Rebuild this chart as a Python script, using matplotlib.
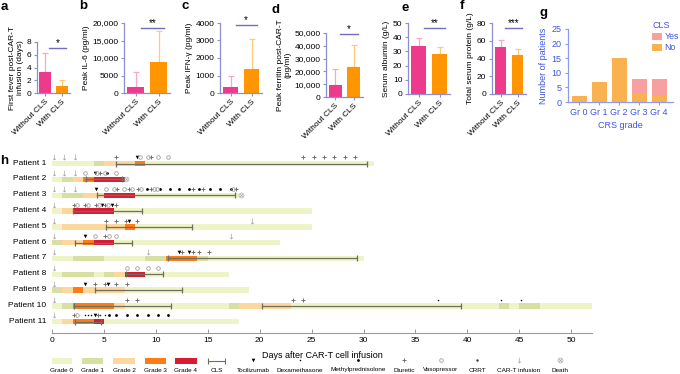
import matplotlib

matplotlib.use("Agg")

import matplotlib.pyplot as plt  # noqa: E402
import numpy as np  # noqa: E402
from matplotlib.patches import Rectangle  # noqa: E402
from matplotlib.ticker import FuncFormatter  # noqa: E402

plt.rcParams["font.family"] = ["Liberation Sans", "DejaVu Sans"]
plt.rcParams["font.size"] = 6

# ---- data: panels a-f (mean, upper error) ----
groups = ["Without CLS", "With CLS"]
fever_mean = [3.3, 1.1]
fever_err = [3.0, 0.9]
il6_mean = [1800, 9000]
il6_err = [4100, 8600]
ifn_mean = [330, 1380]
ifn_err = [640, 1700]
ferritin_mean = [9000, 23500]
ferritin_err = [12900, 17100]
albumin_mean = [34.0, 28.2]
albumin_err = [5.2, 4.7]
protein_mean = [53.0, 44.0]
protein_err = [8.0, 7.0]

# ---- data: panel g ----
crs_grades = ["Gr 0", "Gr 1", "Gr 2", "Gr 3", "Gr 4"]
cls_no = [2, 7, 15, 3, 2]
cls_yes = [0, 0, 0, 5, 6]

# ---- data: panel h (start day, end day, CRS grade) ----
patients = [f"Patient {i}" for i in range(1, 12)]
grade_segments = [
    [(0, 4, 0), (4, 5, 1), (5, 8, 2), (8, 9, 3), (9, 31, 0)],
    [(0, 1, 0), (1, 2, 1), (2, 3, 2), (3, 4, 3), (4, 7, 4)],
    [(0, 1, 0), (1, 3, 1), (3, 5, 2), (5, 8, 4), (8, 18, 0)],
    [(0, 1, 0), (1, 2, 2), (2, 6, 4), (6, 25, 0)],
    [(0, 1, 0), (1, 7, 2), (7, 8, 3), (8, 25, 0)],
    [(0, 1, 1), (1, 3, 2), (3, 4, 3), (4, 6, 4), (6, 22, 0)],
    [(0, 2, 0), (2, 5, 1), (5, 9, 0), (9, 11, 1), (11, 14, 3), (14, 15, 1), (15, 30, 0)],
    [(0, 1, 0), (1, 4, 1), (4, 5, 0), (5, 6, 1), (6, 7, 2), (7, 9, 4), (9, 17, 0)],
    [(0, 1, 1), (1, 2, 2), (2, 3, 3), (3, 7, 2), (7, 19, 0)],
    [(0, 1, 0), (1, 2, 1), (2, 6, 3), (6, 7, 2), (7, 17, 0), (17, 18, 1), (18, 23, 2),
     (23, 43, 0), (43, 44, 1), (44, 45, 0), (45, 47, 1), (47, 52, 0)],
    [(0, 1, 0), (1, 2, 2), (2, 4, 3), (4, 5, 4), (5, 18, 0)],
]
cls_periods = {
    1: [(6.2, 30.3)], 2: [(3.3, 6.7)], 3: [(4.3, 17.6)], 4: [(2.05, 8.7)],
    5: [(5.2, 13.5)], 6: [(2.2, 7.7)], 7: [(11.2, 29.4)], 8: [(7.1, 10.7)],
    9: [(4.15, 12.5)], 10: [(2.1, 11.5), (20.2, 39.4)], 11: [(2.2, 4.7)],
}
tocilizumab = {1: [8.2], 2: [4.1], 3: [4.2], 4: [4.8, 5.8], 5: [7.4], 6: [3.2],
               7: [12.2, 13.2], 9: [3.2, 5.4], 11: [4.1]}
dexamethasone = {10: [37.2, 43.2, 45.2], 11: [3.2, 3.5, 3.8, 4.6, 5.1]}
methylpred = {2: [5.3], 3: [9.1, 10.4, 11.4, 12.2, 13.2, 14.2, 15.2, 16.2, 17.2],
              11: [5.5, 6.2, 7.2, 8.2, 9.2, 10.2, 11.2]}
diuretic = {1: [6.2, 9.5, 24.2, 25.2, 26.2, 27.2, 28.2, 29.2], 2: [4.6],
            3: [6.3, 7.4, 8.3, 9.5, 13.6, 14.5, 17.7], 4: [2.1, 3.2, 4.2, 5.1, 6.2],
            5: [5.2, 6.2, 7.1, 8.2], 6: [5.1], 7: [12.5, 13.6, 14.2, 15.1],
            9: [4.15, 5.1, 6.2, 7.2], 10: [7.2, 8.2, 23.2, 24.2], 11: [2.1, 4.4]}
vasopressor = {1: [8.5, 9.2, 10.2, 11.2], 2: [3.2, 4.3, 5.1, 6.2],
               3: [5.2, 6.0, 6.9, 7.7, 8.6, 9.8, 10.1, 17.4], 4: [2.4, 3.5, 4.5, 5.4],
               6: [4.1, 5.5, 6.2], 8: [7.2, 8.2, 9.2, 10.2], 11: [2.4]}
crrt = {}
infusion = {1: [0.2, 1.2, 2.2], 2: [0.2, 1.2, 2.2], 3: [0.2, 1.2, 2.2], 4: [0.2],
            5: [0.2, 19.3], 6: [0.2, 17.2], 7: [0.2, 9.2], 8: [0.2], 9: [0.2],
            10: [0.2], 11: [0.2]}
death = {2: [7.1], 3: [18.2]}

# ---- styles ----
W, H = 680, 374
PINK, ORANGE = "#EE3A8C", "#FF9500"
PINK_L, ORANGE_L = "#F8A9CB", "#FFC978"
SPINE = "#8E8ECF"
BLUE, BLUE_L = "#3F55DA", "#8C9BEF"
GRADE_COLORS = ["#EEF4C8", "#D7E0A2", "#FDD79C", "#FF7B14", "#D91C34"]
CLS_COLOR = "#6F6F5E"
MARKERS = {
    "Tocilizumab": (tocilizumab, dict(marker="v", color="black", ms=2.6, mew=0)),
    "Dexamethasone": (dexamethasone, dict(marker="o", color="black", ms=1.1, mew=0)),
    "Methylprednisolone": (methylpred, dict(marker="o", color="black", ms=2.0, mew=0)),
    "Diuretic": (diuretic, dict(marker="+", color="#707070", ms=3, mew=0.7)),
    "Vasopressor": (vasopressor, dict(marker="o", mfc="none", mec="#A0A0A0", ms=2.6, mew=0.6)),
    "CRRT": (crrt, dict(marker="o", color="#404040", ms=1.8, mew=0)),
    "CAR-T infusion": (infusion, dict(marker=r"$\downarrow$", color="#A0A0A0", ms=4, mew=0)),
    "Death": (death, dict(marker=r"$\otimes$", color="#A0A0A0", ms=4, mew=0)),
}

fig = plt.figure(figsize=(W / 100, H / 100), dpi=100)


def px_rect(x0, x1, y_top, y_bot):
    return [x0 / W, 1 - y_bot / H, (x1 - x0) / W, (y_bot - y_top) / H]


def comma_fmt(v, _):
    v = int(round(v))
    return f"{v:,}" if v >= 10000 else f"{v}"


def bar_panel(rect, means, errs, ymax, step, ylabel, stars, sig_y, fmt=None):
    ax = fig.add_axes(rect)
    x = np.arange(len(groups))
    ax.bar(x, means, width=0.7, color=[PINK, ORANGE], zorder=2)
    for xi, m, e, c in zip(x, means, errs, [PINK_L, ORANGE_L]):
        ax.errorbar(xi, m, yerr=[[0], [e]], color=c, capsize=2.2, elinewidth=0.9,
                    capthick=0.9, zorder=1)
    ax.plot([0.25, 1.25], [sig_y, sig_y], color="#6F6FC0", lw=1)
    ax.text(0.75, sig_y, stars, ha="center", va="bottom", fontsize=7)
    ax.set_xlim(-0.5, 1.5)
    ax.set_ylim(0, ymax)
    ax.set_yticks(np.arange(0, ymax + step / 2, step))
    if fmt is not None:
        ax.yaxis.set_major_formatter(FuncFormatter(fmt))
    ax.set_xticks(x)
    ax.set_xticklabels(groups, rotation=45, ha="right", rotation_mode="anchor")
    ax.set_ylabel(ylabel, fontsize=6, labelpad=2)
    for s in ("top", "right"):
        ax.spines[s].set_visible(False)
    for s in ("left", "bottom"):
        ax.spines[s].set_color(SPINE)
        ax.spines[s].set_linewidth(0.9)
    ax.tick_params(colors=SPINE, labelcolor="black", labelsize=6, length=2.5, width=0.8, pad=1.5)
    ax.spines["left"].set_bounds(0, ymax)
    return ax


bar_panel(px_rect(37, 70, 42, 93), fever_mean, fever_err, 8, 2,
          "First fever post-CAR-T\ninfusion (days)", "*", 7.1)
bar_panel(px_rect(124, 170, 23, 93), il6_mean, il6_err, 20000, 5000,
          "Peak IL-6 (pg/ml)", "**", 18500, comma_fmt)
bar_panel(px_rect(220, 262, 23, 93), ifn_mean, ifn_err, 4000, 1000,
          "Peak IFN-γ (pg/ml)", "*", 3900)
bar_panel(px_rect(326, 363, 33, 97), ferritin_mean, ferritin_err, 50000, 10000,
          "Peak ferritin post-CAR-T\n(pg/ml)", "*", 49500, comma_fmt)
bar_panel(px_rect(408, 450, 23, 94), albumin_mean, albumin_err, 50, 10,
          "Serum albumin (g/L)", "**", 46.5)
bar_panel(px_rect(492, 526, 23, 94), protein_mean, protein_err, 80, 20,
          "Total serum protein (g/L)", "***", 74.5)

# ---- panel g ----
axg = fig.add_axes(px_rect(568, 673, 29, 102))
xg = np.arange(len(crs_grades))
axg.bar(xg, cls_no, width=0.75, color="#F9B24F", label="No")
axg.bar(xg, cls_yes, width=0.75, bottom=cls_no, color="#F8A0A0", label="Yes")
axg.set_xlim(-0.55, 4.7)
axg.set_ylim(0, 25)
axg.set_yticks(range(0, 26, 5))
axg.set_xticks(xg)
axg.set_xticklabels(crs_grades)
axg.set_xlabel("CRS grade", color=BLUE, fontsize=6.5, labelpad=3)
axg.set_ylabel("Number of patients", color=BLUE, fontsize=6.5, labelpad=3)
for s in ("top", "right"):
    axg.spines[s].set_visible(False)
for s in ("left", "bottom"):
    axg.spines[s].set_color(BLUE_L)
    axg.spines[s].set_linewidth(0.9)
axg.tick_params(colors=BLUE_L, labelcolor=BLUE, labelsize=6.5, length=2.5, width=0.8, pad=2)
handles, labels = axg.get_legend_handles_labels()
leg = axg.legend(handles[::-1], labels[::-1], title="CLS", loc="upper left",
                 bbox_to_anchor=(0.76, 1.17), frameon=False, fontsize=6.3,
                 title_fontsize=6.5, handlelength=1.1, handleheight=0.9,
                 handletextpad=0.3, borderpad=0, labelspacing=0.25)
leg._legend_box.align = "left"
leg.get_title().set_color(BLUE)
for t in leg.get_texts():
    t.set_color(BLUE)

# ---- panel h ----
axh = fig.add_axes([52 / W, 1 - 333 / H, 540 / W, (333 - 151) / H])
rows = np.arange(1, len(patients) + 1)
for y, segs in zip(rows, grade_segments):
    for s, e, g in segs:
        axh.barh(y + 0.1, e - s, left=s, height=0.34, color=GRADE_COLORS[g], lw=0)
for p, spans in cls_periods.items():
    for s, e in spans:
        axh.plot([s, e], [p + 0.1, p + 0.1], color=CLS_COLOR, lw=0.9,
                 marker="|", ms=4, mew=0.9)
for name, (table, style) in MARKERS.items():
    for p, days in table.items():
        off = 0.1 if name == "Death" else -0.3
        axh.plot(days, [p + off] * len(days), ls="none", **style)
axh.set_xlim(0, 52)
axh.set_ylim(11.82, 0.3)
axh.set_yticks(rows)
axh.set_yticklabels(patients, fontsize=6)
axh.set_xticks(range(0, 51, 5))
axh.set_xlabel("Days after CAR-T cell infusion", fontsize=6.5, labelpad=5)
for s in ("top", "right", "left"):
    axh.spines[s].set_visible(False)
axh.spines["bottom"].set_color("#9A9A9A")
axh.spines["bottom"].set_linewidth(0.8)
axh.tick_params(axis="y", length=0, pad=4)
axh.tick_params(axis="x", direction="in", length=3, width=0.7, color="#9A9A9A",
                labelsize=6, pad=3)

# ---- bottom legend for h ----
axl = fig.add_axes([0, 0, 1, 22 / H])
axl.set_xlim(0, W)
axl.set_ylim(0, 22)
axl.axis("off")
grade_keys = [(52, 72), (82, 103), (113, 135), (145, 166), (175, 197)]
for g, (x0, x1) in enumerate(grade_keys):
    axl.add_patch(Rectangle((x0, 10.5), x1 - x0, 5.5, color=GRADE_COLORS[g], lw=0))
    axl.text((x0 + x1) / 2, 4, f"Grade {g}", ha="center", va="center", fontsize=4.6)
axl.plot([208, 225], [13.2, 13.2], color=CLS_COLOR, lw=0.8, marker="|", ms=4, mew=0.8)
axl.text(216.5, 4, "CLS", ha="center", va="center", fontsize=4.6)
marker_keys = [253, 300, 358, 404, 441, 477, 519, 560]
for xk, (name, (_, style)) in zip(marker_keys, MARKERS.items()):
    axl.plot([xk], [14.5], ls="none", **style)
    axl.text(xk, 4, name, ha="center", va="center", fontsize=4.6)

# ---- panel letters ----
for letter, x, y in [("a", 4, 7), ("b", 83, 6), ("c", 185, 6), ("d", 276, 10),
                     ("e", 405, 8), ("f", 462, 6), ("g", 544, 13), ("h", 4, 161)]:
    fig.text(x / W, 1 - y / H, letter, fontsize=9.5, fontweight="bold",
             ha="center", va="center")

fig.savefig("out.png", dpi=100)
